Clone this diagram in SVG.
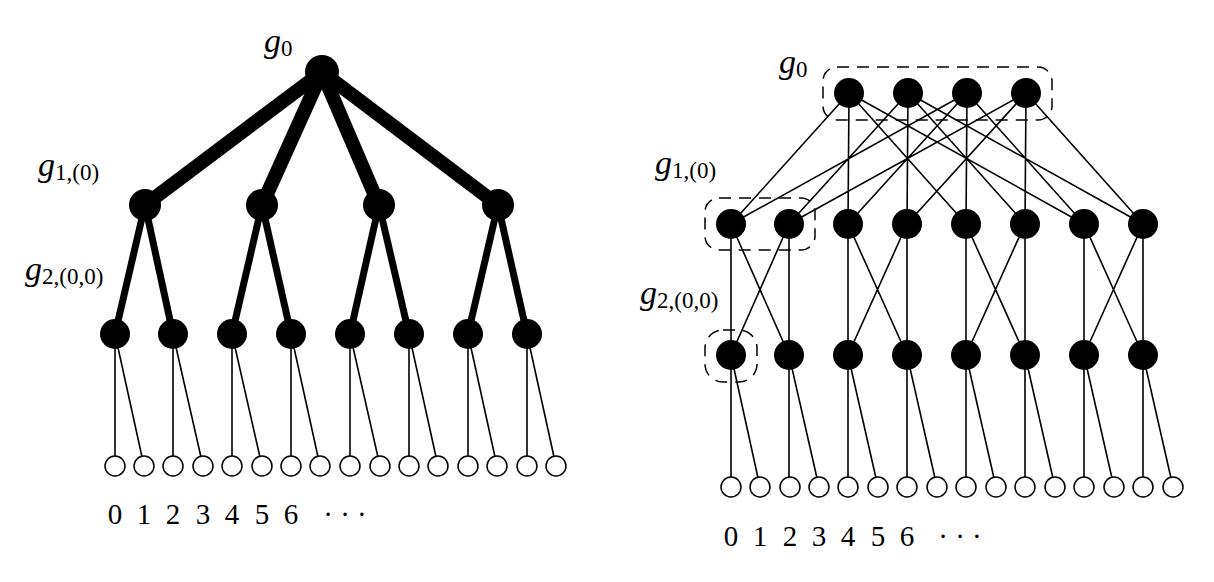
<svg xmlns="http://www.w3.org/2000/svg" width="1214" height="582" viewBox="0 0 1214 582">
<style>
.b{fill:#000}
.w{fill:#fff;stroke:#000;stroke-width:1.5}
.e{stroke:#000;stroke-width:1.6;fill:none}
.d{stroke:#000;stroke-width:1.5;fill:none;stroke-dasharray:12 8}
.t{font-family:"Liberation Serif",serif;font-size:28px}
.g{font-style:italic;font-size:34px}
.s{font-size:23px}
.n{text-anchor:middle;font-size:29px}
</style>
<rect width="1214" height="582" fill="#fff"/>
<g id="connectors">
<g stroke="#000" stroke-linecap="butt">
<line x1="322" y1="72" x2="145" y2="205" stroke-width="14"/>
<line x1="322" y1="72" x2="262" y2="205" stroke-width="14"/>
<line x1="322" y1="72" x2="379" y2="205" stroke-width="14"/>
<line x1="322" y1="72" x2="498" y2="205" stroke-width="14"/>
<line x1="145" y1="205" x2="115" y2="334" stroke-width="7"/>
<line x1="145" y1="205" x2="173" y2="334" stroke-width="7"/>
<line x1="262" y1="205" x2="232" y2="334" stroke-width="7"/>
<line x1="262" y1="205" x2="291" y2="334" stroke-width="7"/>
<line x1="379" y1="205" x2="350" y2="334" stroke-width="7"/>
<line x1="379" y1="205" x2="409" y2="334" stroke-width="7"/>
<line x1="498" y1="205" x2="468" y2="334" stroke-width="7"/>
<line x1="498" y1="205" x2="527" y2="334" stroke-width="7"/>
</g>
<g class="e">
<path d="M115 334V466M115 334L144 466M173 334V466M173 334L203 466M232 334V466M232 334L262 466M291 334V466M291 334L320 466M350 334V466M350 334L380 466M409 334V466M409 334L438 466M468 334V466M468 334L497 466M527 334V466M527 334L556 466"/>
<path d="M849 93L731 224M849 93L848 224M849 93L966 224M849 93L1084 224M967 93L731 224M967 93L848 224M967 93L966 224M967 93L1084 224M908 93L789 224M908 93L907 224M908 93L1025 224M908 93L1143 224M1026 93L789 224M1026 93L907 224M1026 93L1025 224M1026 93L1143 224"/>
<path d="M731 224V355M731 224L789 355M789 224V355M789 224L731 355M848 224V355M848 224L907 355M907 224V355M907 224L848 355M966 224V355M966 224L1025 355M1025 224V355M1025 224L966 355M1084 224V355M1084 224L1143 355M1143 224V355M1143 224L1084 355"/>
<path d="M731 355V487M731 355L760 487M789 355V487M789 355L819 487M848 355V487M848 355L878 487M907 355V487M907 355L937 487M966 355V487M966 355L996 487M1025 355V487M1025 355L1055 487M1084 355V487M1084 355L1114 487M1143 355V487M1143 355L1173 487"/>
</g>
</g>
<g id="left-nodes">
<circle id="L0" class="b" cx="322" cy="72" r="17"/>
<circle class="b" cx="145" cy="205" r="16"/><circle class="b" cx="262" cy="205" r="16"/><circle class="b" cx="379" cy="205" r="16"/><circle class="b" cx="498" cy="205" r="16"/>
<circle class="b" cx="115" cy="334" r="15"/><circle class="b" cx="173" cy="334" r="15"/><circle class="b" cx="232" cy="334" r="15"/><circle class="b" cx="291" cy="334" r="15"/><circle class="b" cx="350" cy="334" r="15"/><circle class="b" cx="409" cy="334" r="15"/><circle class="b" cx="468" cy="334" r="15"/><circle class="b" cx="527" cy="334" r="15"/>
<circle class="w" cx="115" cy="466" r="10"/><circle class="w" cx="144" cy="466" r="10"/><circle class="w" cx="173" cy="466" r="10"/><circle class="w" cx="203" cy="466" r="10"/><circle class="w" cx="232" cy="466" r="10"/><circle class="w" cx="262" cy="466" r="10"/><circle class="w" cx="291" cy="466" r="10"/><circle class="w" cx="320" cy="466" r="10"/><circle class="w" cx="350" cy="466" r="10"/><circle class="w" cx="380" cy="466" r="10"/><circle class="w" cx="409" cy="466" r="10"/><circle class="w" cx="438" cy="466" r="10"/><circle class="w" cx="468" cy="466" r="10"/><circle class="w" cx="497" cy="466" r="10"/><circle class="w" cx="527" cy="466" r="10"/><circle class="w" cx="556" cy="466" r="10"/>
</g>
<g id="right-nodes">
<circle class="b" cx="849" cy="93" r="15"/><circle class="b" cx="908" cy="93" r="15"/><circle class="b" cx="967" cy="93" r="15"/><circle class="b" cx="1026" cy="93" r="15"/>
<circle class="b" cx="731" cy="224" r="15"/><circle class="b" cx="789" cy="224" r="15"/><circle class="b" cx="848" cy="224" r="15"/><circle class="b" cx="907" cy="224" r="15"/><circle class="b" cx="966" cy="224" r="15"/><circle class="b" cx="1025" cy="224" r="15"/><circle class="b" cx="1084" cy="224" r="15"/><circle class="b" cx="1143" cy="224" r="15"/>
<circle class="b" cx="731" cy="355" r="15"/><circle class="b" cx="789" cy="355" r="15"/><circle class="b" cx="848" cy="355" r="15"/><circle class="b" cx="907" cy="355" r="15"/><circle class="b" cx="966" cy="355" r="15"/><circle class="b" cx="1025" cy="355" r="15"/><circle class="b" cx="1084" cy="355" r="15"/><circle class="b" cx="1143" cy="355" r="15"/>
<circle class="w" cx="731" cy="487" r="10"/><circle class="w" cx="760" cy="487" r="10"/><circle class="w" cx="790" cy="487" r="10"/><circle class="w" cx="819" cy="487" r="10"/><circle class="w" cx="848" cy="487" r="10"/><circle class="w" cx="878" cy="487" r="10"/><circle class="w" cx="907" cy="487" r="10"/><circle class="w" cx="937" cy="487" r="10"/><circle class="w" cx="966" cy="487" r="10"/><circle class="w" cx="996" cy="487" r="10"/><circle class="w" cx="1025" cy="487" r="10"/><circle class="w" cx="1055" cy="487" r="10"/><circle class="w" cx="1084" cy="487" r="10"/><circle class="w" cx="1114" cy="487" r="10"/><circle class="w" cx="1143" cy="487" r="10"/><circle class="w" cx="1173" cy="487" r="10"/>
</g>
<g id="groups">
<rect class="d" x="823" y="67" width="229" height="53" rx="14"/>
<rect class="d" x="705" y="198" width="110" height="52" rx="14"/>
<rect class="d" x="705" y="330" width="52" height="52" rx="18"/>
</g>
<g id="labels" class="t">
<text x="264" y="52"><tspan class="g">g</tspan><tspan class="s" dy="4">0</tspan></text>
<text x="38" y="176"><tspan class="g">g</tspan><tspan class="s" dy="4">1,(0)</tspan></text>
<text x="25" y="280"><tspan class="g">g</tspan><tspan class="s" dy="4">2,(0,0)</tspan></text>
<text class="n" y="524"><tspan x="115">0</tspan><tspan x="144">1</tspan><tspan x="173">2</tspan><tspan x="203">3</tspan><tspan x="232">4</tspan><tspan x="262">5</tspan><tspan x="291">6</tspan><tspan x="345">· · ·</tspan></text>
<text x="779" y="73"><tspan class="g">g</tspan><tspan class="s" dy="4">0</tspan></text>
<text x="655" y="174"><tspan class="g">g</tspan><tspan class="s" dy="4">1,(0)</tspan></text>
<text x="640" y="304"><tspan class="g">g</tspan><tspan class="s" dy="4">2,(0,0)</tspan></text>
<text class="n" y="546"><tspan x="731">0</tspan><tspan x="760">1</tspan><tspan x="790">2</tspan><tspan x="819">3</tspan><tspan x="848">4</tspan><tspan x="878">5</tspan><tspan x="907">6</tspan><tspan x="960">· · ·</tspan></text>
</g>
</svg>
